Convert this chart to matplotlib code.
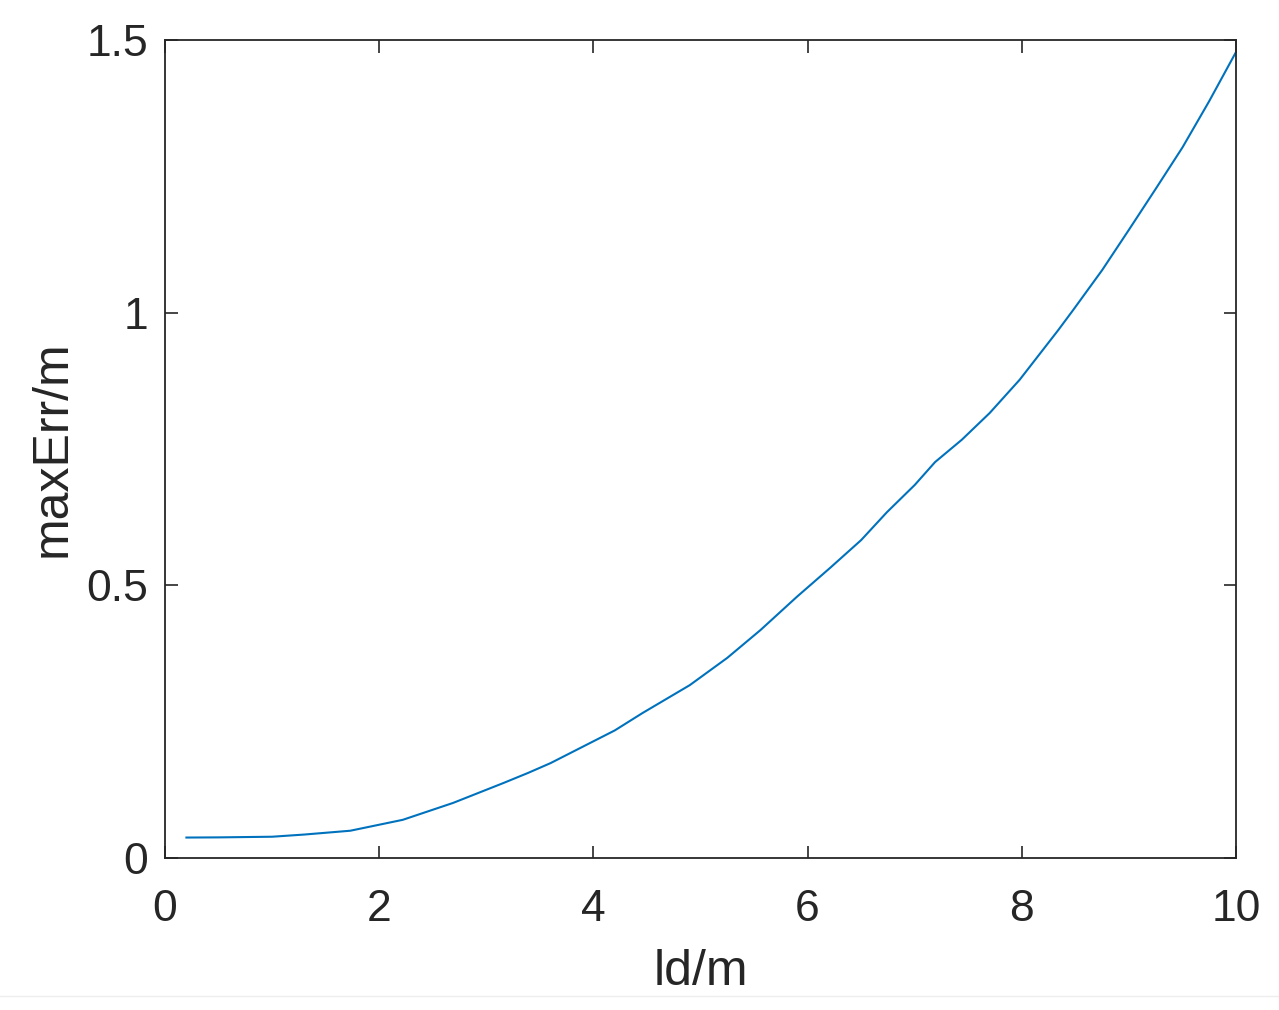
import numpy as np
import matplotlib.pyplot as plt
from matplotlib.lines import Line2D

# values
ld = [0.2, 0.5, 1.0, 1.3, 1.73, 2.22, 2.69, 3.16, 3.39, 3.6, 3.9, 4.2, 4.46,
      4.9, 5.25, 5.56, 5.9, 6.21, 6.5, 6.74, 7.0, 7.19, 7.44, 7.7, 7.98,
      8.34, 8.48, 8.75, 9.0, 9.25, 9.5, 9.75, 10.0]
max_err = [0.0375, 0.0378, 0.039, 0.043, 0.050, 0.070, 0.101, 0.1375, 0.156, 0.174, 0.204, 0.234, 0.266,
           0.317, 0.367, 0.418, 0.479, 0.532, 0.583, 0.634, 0.684, 0.726, 0.767, 0.816, 0.877,
           0.968, 1.005, 1.078, 1.152, 1.227, 1.303, 1.388, 1.478]
xticks = [0, 2, 4, 6, 8, 10]
yticks = [0, 0.5, 1, 1.5]
ytick_labels = ['0', '0.5', '1', '1.5']

plt.rcParams['font.family'] = ['Liberation Sans', 'DejaVu Sans']

fig = plt.figure(figsize=(12.79, 10.10), dpi=100)
ax = fig.add_axes([0.129, 0.1505, 0.8374, 0.8099])

ax.plot(ld, max_err, color='#0072BD', linewidth=1.5)

ax.set_xlim(0, 10)
ax.set_ylim(0, 1.5)
ax.set_xticks(xticks)
ax.set_yticks(yticks)
ax.set_yticklabels(ytick_labels)
ax.tick_params(direction='in', length=9, width=1.2, colors='#262626',
               labelsize=32, top=True, right=True, pad=12)
ax.tick_params(axis='x', pad=22)
for sp in ax.spines.values():
    sp.set_linewidth(1.3)
    sp.set_color('#262626')

ax.set_xlabel('ld/m', fontsize=36, color='#262626', labelpad=14)
ax.set_ylabel('maxErr/m', fontsize=36, color='#262626', labelpad=8)

# faint separator near the bottom edge
fig.add_artist(Line2D([0, 1], [0.014, 0.014], transform=fig.transFigure,
                      color='#eeeeee', linewidth=1))

fig.savefig('out.png', dpi=100)
